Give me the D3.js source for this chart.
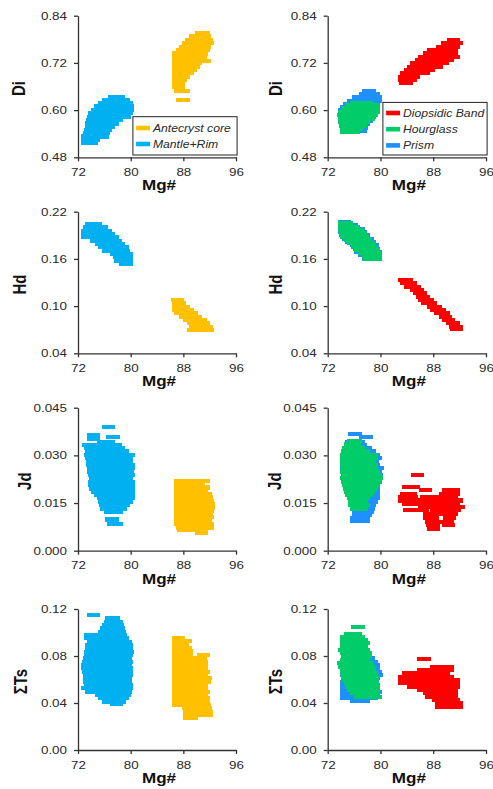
<!DOCTYPE html>
<html>
<head>
<meta charset="utf-8">
<script src="https://cdn.jsdelivr.net/npm/d3@7"></script>
<style>
  html, body { margin: 0; padding: 0; background: #fff; }
  svg { display: block; font-family: "Liberation Sans", Arial, sans-serif; }
</style>
</head>
<body>
<svg id="chart" width="493" height="789"></svg>
<script>
// ---- axis ticks ----
const mgTicks = [72, 80, 88, 96];
const diTicks = [0.48, 0.60, 0.72, 0.84];
const hdTicks = [0.04, 0.10, 0.16, 0.22];
const jdTicks = [0.000, 0.015, 0.030, 0.045];
const tsTicks = [0.00, 0.04, 0.08, 0.12];

// ---- groups ----
const groupsLeft = ["Antecryst core", "Mantle+Rim"];
const groupsRight = ["Diopsidic Band", "Hourglass", "Prism"];

// ---- analyses: each row is [value, Mg# of first spot in the run, Mg# of last spot in the run] ----
const diCore = [
  [0.795, 90.8, 91.0], [0.787, 89.8, 91.2], [0.778, 89.3, 91.5], [0.770, 88.8, 91.6],
  [0.761, 88.3, 91.2], [0.753, 87.8, 91.0], [0.744, 87.3, 90.8], [0.736, 87.3, 90.6],
  [0.727, 87.3, 90.2], [0.724, 91.2, 91.2], [0.719, 87.3, 89.8], [0.710, 87.3, 89.5],
  [0.702, 87.3, 89.1], [0.694, 87.3, 88.6], [0.685, 87.3, 88.1], [0.677, 87.3, 87.5],
  [0.668, 87.2, 87.2], [0.660, 87.2, 87.2], [0.649, 87.5, 88.0], [0.626, 87.9, 88.0]
];
const diRim = [
  [0.634, 77.6, 78.2], [0.626, 76.6, 78.9], [0.617, 76.0, 79.3], [0.609, 75.4, 79.5],
  [0.600, 74.9, 79.5], [0.592, 74.5, 79.3], [0.583, 74.3, 79.0], [0.575, 74.2, 77.8],
  [0.566, 74.1, 77.2], [0.558, 74.0, 76.7], [0.550, 73.9, 76.2], [0.541, 73.8, 75.9],
  [0.533, 73.5, 75.7], [0.524, 73.4, 74.4], [0.517, 73.4, 74.1]
];
const diBand = [
  [0.777, 91.0, 91.1], [0.770, 90.1, 91.6], [0.761, 89.4, 91.1], [0.753, 88.0, 90.8],
  [0.744, 87.5, 90.7], [0.736, 86.7, 91.0], [0.727, 86.2, 90.2], [0.719, 85.5, 89.4],
  [0.710, 85.0, 88.5], [0.702, 84.5, 87.3], [0.694, 83.9, 86.5], [0.685, 83.7, 85.0],
  [0.677, 83.6, 84.5], [0.668, 83.8, 83.9]
];
const diHourglass = [
  [0.619, 76.4, 77.9], [0.612, 75.6, 78.8], [0.604, 75.0, 78.9], [0.595, 74.5, 78.9],
  [0.587, 74.4, 78.7], [0.578, 74.5, 78.2], [0.570, 74.6, 77.5], [0.561, 74.7, 76.9],
  [0.553, 74.8, 76.4], [0.544, 74.8, 75.9]
];
const diPrism = [
  [0.649, 78.2, 78.3], [0.641, 77.7, 78.9], [0.633, 76.6, 79.3], [0.624, 75.9, 79.2],
  [0.616, 75.3, 79.0], [0.607, 74.8, 79.0], [0.599, 74.6, 78.9], [0.590, 74.5, 78.7],
  [0.582, 74.5, 78.3], [0.573, 74.6, 77.9], [0.565, 74.8, 77.5], [0.556, 74.9, 77.2],
  [0.548, 74.8, 76.9]
];

const hdCore = [
  [0.1078, 87.1, 87.1], [0.1035, 87.3, 87.4], [0.0993, 87.3, 88.0], [0.0951, 87.3, 88.6],
  [0.0908, 87.5, 89.3], [0.0866, 88.3, 89.8], [0.0823, 89.0, 90.6], [0.0781, 89.6, 91.1],
  [0.0739, 89.9, 91.5], [0.0696, 89.5, 91.6]
];
const hdRim = [
  [0.2043, 74.1, 74.6], [0.2001, 73.8, 75.5], [0.1959, 73.5, 76.2], [0.1916, 73.4, 76.7],
  [0.1874, 73.5, 77.2], [0.1832, 74.8, 77.7], [0.1789, 75.5, 78.2], [0.1747, 76.1, 78.7],
  [0.1704, 76.6, 78.9], [0.1662, 77.9, 79.3], [0.1620, 78.3, 79.4], [0.1577, 78.5, 79.4],
  [0.1535, 79.2, 79.3]
];
const hdBand = [
  [0.1332, 83.6, 83.9], [0.1289, 83.9, 84.5], [0.1247, 84.5, 85.2], [0.1205, 85.4, 85.6],
  [0.1162, 85.9, 86.0], [0.1120, 86.4, 86.5], [0.1078, 86.7, 87.1], [0.1035, 87.2, 87.6],
  [0.0993, 88.1, 88.3], [0.0951, 88.5, 89.0], [0.0908, 89.1, 89.5], [0.0866, 89.8, 89.9],
  [0.0823, 90.3, 90.3], [0.0781, 90.9, 91.0], [0.0739, 91.4, 91.5], [0.0705, 91.6, 91.6]
];
const hdHourglass = [
  [0.2052, 74.5, 74.9], [0.2009, 74.5, 75.9], [0.1967, 74.6, 76.5], [0.1925, 74.7, 76.9],
  [0.1882, 74.8, 77.3], [0.1840, 75.4, 77.8], [0.1798, 75.9, 78.3], [0.1755, 76.5, 78.7],
  [0.1713, 77.0, 78.9], [0.1671, 77.6, 79.1], [0.1628, 78.2, 79.3], [0.1594, 78.4, 79.3]
];
const hdPrism = [
  [0.2069, 74.5, 74.6], [0.2026, 74.5, 75.6], [0.1984, 74.6, 76.7], [0.1942, 74.6, 77.0],
  [0.1899, 74.7, 77.5], [0.1857, 75.1, 78.0], [0.1815, 75.6, 78.4], [0.1772, 76.3, 78.8],
  [0.1730, 76.8, 79.0], [0.1688, 77.0, 79.2], [0.1645, 77.6, 79.3], [0.1603, 78.2, 79.2]
];

const jdCore = [
  [0.0220, 87.6, 91.0], [0.0210, 87.6, 90.3], [0.0199, 87.6, 91.1], [0.0189, 87.6, 90.8],
  [0.0178, 87.6, 91.3], [0.0168, 87.6, 91.5], [0.0157, 87.6, 91.6], [0.0147, 87.6, 91.8],
  [0.0136, 87.6, 91.8], [0.0126, 87.6, 91.6], [0.0115, 87.6, 91.5], [0.0105, 87.6, 91.6],
  [0.0094, 87.6, 91.3], [0.0084, 87.6, 91.6], [0.0073, 87.8, 91.6], [0.0065, 88.1, 90.8],
  [0.0055, 90.8, 90.8]
];
const jdRim = [
  [0.0389, 76.6, 76.7], [0.0364, 74.3, 74.4], [0.0359, 77.3, 77.4], [0.0353, 74.3, 74.4],
  [0.0343, 75.9, 76.7], [0.0333, 73.6, 77.7], [0.0322, 73.9, 78.2], [0.0312, 74.0, 78.7],
  [0.0301, 73.9, 79.6], [0.0291, 74.1, 79.4], [0.0280, 74.2, 79.3], [0.0270, 74.2, 79.7],
  [0.0259, 74.3, 79.7], [0.0249, 74.4, 79.5], [0.0238, 74.5, 79.7], [0.0228, 74.6, 79.4],
  [0.0217, 74.5, 79.7], [0.0207, 74.5, 79.7], [0.0196, 74.6, 79.7], [0.0186, 74.9, 79.7],
  [0.0175, 75.4, 79.7], [0.0165, 75.9, 79.7], [0.0154, 76.1, 79.4], [0.0144, 76.2, 78.9],
  [0.0133, 76.4, 78.4], [0.0123, 76.9, 77.9], [0.0098, 77.1, 77.2], [0.0084, 77.4, 77.8]
];
const jdBand = [
  [0.0237, 85.6, 85.6], [0.0201, 84.2, 85.0], [0.0190, 86.9, 86.9], [0.0190, 90.3, 91.1],
  [0.0179, 83.9, 84.5], [0.0179, 89.8, 91.0], [0.0169, 83.7, 84.7], [0.0169, 87.0, 90.8],
  [0.0158, 83.7, 91.6], [0.0148, 84.2, 91.1], [0.0137, 86.7, 91.8], [0.0128, 84.4, 86.3],
  [0.0128, 88.5, 91.3], [0.0116, 87.5, 90.8], [0.0103, 87.4, 87.9], [0.0103, 90.4, 90.4],
  [0.0091, 87.8, 90.2], [0.0081, 87.9, 88.1], [0.0081, 90.3, 90.3], [0.0070, 88.0, 88.0]
];
const jdHourglass = [
  [0.0345, 75.9, 76.2], [0.0335, 75.5, 76.0], [0.0322, 75.1, 76.7], [0.0312, 75.0, 77.4],
  [0.0301, 74.8, 78.7], [0.0291, 74.8, 78.7], [0.0280, 74.8, 78.4], [0.0270, 74.9, 78.7],
  [0.0259, 75.0, 78.7], [0.0249, 74.9, 78.9], [0.0238, 75.0, 79.3], [0.0228, 74.9, 79.4],
  [0.0217, 75.0, 79.2], [0.0207, 75.1, 78.9], [0.0196, 75.3, 78.7], [0.0186, 75.4, 78.2],
  [0.0175, 75.6, 77.9], [0.0165, 75.9, 77.4], [0.0154, 76.1, 77.2], [0.0144, 76.1, 77.4],
  [0.0133, 76.4, 77.2]
];
const jdPrism = [
  [0.0367, 76.1, 76.2], [0.0357, 77.7, 77.9], [0.0343, 75.6, 76.7], [0.0333, 75.6, 76.9],
  [0.0322, 75.4, 77.8], [0.0312, 75.1, 78.3], [0.0301, 74.9, 78.9], [0.0291, 74.9, 79.2],
  [0.0280, 74.9, 78.8], [0.0270, 74.9, 78.9], [0.0259, 74.9, 79.5], [0.0249, 74.9, 79.2],
  [0.0238, 75.0, 79.4], [0.0228, 75.0, 79.4], [0.0217, 75.0, 79.3], [0.0207, 75.1, 79.0],
  [0.0196, 75.3, 79.0], [0.0186, 75.4, 79.0], [0.0175, 75.6, 78.9], [0.0165, 75.9, 79.0],
  [0.0154, 76.0, 78.7], [0.0144, 76.1, 78.4], [0.0133, 76.4, 78.2], [0.0123, 76.6, 78.0],
  [0.0112, 76.6, 77.7], [0.0102, 76.4, 77.4], [0.0093, 76.3, 77.4]
];

const tsCore = [
  [0.0956, 87.3, 87.3], [0.0928, 87.3, 88.3], [0.0899, 87.3, 87.8], [0.0871, 87.3, 88.3],
  [0.0843, 87.3, 88.5], [0.0811, 87.3, 88.5], [0.0811, 91.1, 91.1], [0.0780, 87.3, 90.6],
  [0.0752, 87.3, 90.7], [0.0723, 87.3, 90.8], [0.0695, 87.3, 90.8], [0.0667, 87.3, 91.0],
  [0.0638, 87.3, 90.8], [0.0610, 87.3, 91.3], [0.0582, 87.3, 91.2], [0.0553, 87.3, 90.8],
  [0.0525, 87.3, 90.8], [0.0496, 87.3, 91.0], [0.0468, 87.3, 90.8], [0.0440, 87.3, 91.0],
  [0.0411, 87.3, 91.1], [0.0383, 87.3, 91.2], [0.0355, 88.8, 91.3], [0.0326, 89.0, 91.5],
  [0.0298, 88.9, 91.5], [0.0269, 89.0, 89.3]
];
const tsRim = [
  [0.1149, 74.3, 74.4], [0.1121, 77.1, 77.4], [0.1092, 76.9, 77.8], [0.1064, 76.6, 78.0],
  [0.1035, 76.4, 78.2], [0.1007, 76.1, 78.3], [0.0979, 73.9, 78.5], [0.0950, 73.9, 78.7],
  [0.0922, 74.3, 79.2], [0.0894, 74.1, 79.3], [0.0865, 74.0, 79.4], [0.0837, 73.9, 79.5],
  [0.0809, 73.9, 79.3], [0.0780, 73.8, 79.2], [0.0752, 73.6, 79.3], [0.0723, 73.5, 79.2],
  [0.0695, 73.5, 79.4], [0.0667, 73.6, 79.3], [0.0638, 73.8, 79.3], [0.0610, 73.7, 79.2],
  [0.0582, 73.8, 79.2], [0.0553, 73.9, 79.4], [0.0525, 73.4, 79.3], [0.0496, 74.0, 79.2],
  [0.0468, 75.6, 79.0], [0.0440, 76.1, 78.7], [0.0411, 76.6, 78.3], [0.0391, 77.9, 77.9]
];
const tsBand = [
  [0.0774, 86.6, 86.7], [0.0704, 88.5, 90.2], [0.0681, 86.5, 90.2], [0.0652, 84.2, 89.5],
  [0.0624, 83.7, 90.2], [0.0596, 83.7, 91.0], [0.0567, 83.7, 91.1], [0.0539, 85.0, 91.1],
  [0.0511, 86.5, 90.8], [0.0482, 87.5, 90.7], [0.0454, 87.8, 90.7], [0.0426, 88.8, 91.0],
  [0.0397, 89.3, 91.6], [0.0369, 89.3, 91.5]
];
const tsHourglass = [
  [0.1050, 76.5, 76.6], [0.0987, 75.4, 76.2], [0.0965, 74.9, 76.7], [0.0936, 74.8, 77.2],
  [0.0908, 74.8, 77.4], [0.0879, 74.8, 77.2], [0.0851, 74.6, 77.4], [0.0823, 74.8, 77.7],
  [0.0794, 75.0, 77.8], [0.0766, 74.9, 77.5], [0.0738, 74.4, 77.9], [0.0709, 74.6, 78.2],
  [0.0681, 74.8, 78.4], [0.0652, 74.9, 78.7], [0.0624, 75.0, 78.8], [0.0596, 75.1, 78.7],
  [0.0567, 75.4, 78.8], [0.0539, 75.6, 78.9], [0.0511, 75.9, 78.9], [0.0482, 76.4, 79.0],
  [0.0454, 76.9, 79.3]
];
const tsPrism = [
  [0.0780, 75.0, 78.2], [0.0752, 74.9, 78.7], [0.0723, 74.9, 79.0], [0.0695, 74.9, 78.9],
  [0.0667, 74.9, 79.2], [0.0638, 74.9, 79.4], [0.0610, 75.0, 79.0], [0.0582, 74.9, 78.8],
  [0.0553, 74.8, 79.0], [0.0525, 74.8, 79.0], [0.0496, 74.9, 79.2], [0.0468, 74.9, 79.0],
  [0.0440, 74.8, 78.7], [0.0420, 76.3, 77.5]
];

// ---- styling ----
const colors = {
  "Antecryst core": "#FFC000",
  "Mantle+Rim": "#00B0F0",
  "Diopsidic Band": "#FF0000",
  "Hourglass": "#00CC6A",
  "Prism": "#1E90FF"
};
const STRETCH = 1.22;      // horizontal stretch of all lettering
const DASH_HALF = 6.5;     // half length of a dash marker, px
const DASH_H = 4.2;        // dash marker thickness, px
const axisColor = "#333";
const textColor = "#2a2a2a";

const colRange = [[78, 236], [327.7, 486]];
const rowRange = [[15.7, 157.3], [211.7, 353.3], [407.7, 550.7], [609, 750]];

const panels = [
  { col: 0, row: 0, title: "Di", ticks: diTicks, fmt: ".2f", titleX: 18.5,
    series: [["Antecryst core", diCore], ["Mantle+Rim", diRim]], legend: groupsLeft },
  { col: 1, row: 0, title: "Di", ticks: diTicks, fmt: ".2f", titleX: 275,
    series: [["Prism", diPrism], ["Hourglass", diHourglass], ["Diopsidic Band", diBand]], legend: groupsRight },
  { col: 0, row: 1, title: "Hd", ticks: hdTicks, fmt: ".2f", titleX: 19,
    series: [["Antecryst core", hdCore], ["Mantle+Rim", hdRim]] },
  { col: 1, row: 1, title: "Hd", ticks: hdTicks, fmt: ".2f", titleX: 275,
    series: [["Prism", hdPrism], ["Hourglass", hdHourglass], ["Diopsidic Band", hdBand]] },
  { col: 0, row: 2, title: "Jd", ticks: jdTicks, fmt: ".3f", titleX: 24,
    series: [["Antecryst core", jdCore], ["Mantle+Rim", jdRim]] },
  { col: 1, row: 2, title: "Jd", ticks: jdTicks, fmt: ".3f", titleX: 274,
    series: [["Prism", jdPrism], ["Hourglass", jdHourglass], ["Diopsidic Band", jdBand]] },
  { col: 0, row: 3, title: "\u03A3Ts", ticks: tsTicks, fmt: ".2f", titleX: 20,
    series: [["Antecryst core", tsCore], ["Mantle+Rim", tsRim]] },
  { col: 1, row: 3, title: "\u03A3Ts", ticks: tsTicks, fmt: ".2f", titleX: 275,
    series: [["Prism", tsPrism], ["Hourglass", tsHourglass], ["Diopsidic Band", tsBand]] }
];

const svg = d3.select("#chart");

panels.forEach(p => {
  const [x0, x1] = colRange[p.col];
  const [yTop, yBot] = rowRange[p.row];
  const x = d3.scaleLinear().domain([mgTicks[0], mgTicks[mgTicks.length - 1]]).range([x0, x1]);
  const y = d3.scaleLinear().domain([p.ticks[0], p.ticks[p.ticks.length - 1]]).range([yBot, yTop]);
  const g = svg.append("g");

  // dash markers: each run of analyses drawn as overlapping horizontal dashes
  p.series.forEach(([name, rows]) => {
    g.append("g").attr("shape-rendering", "crispEdges")
      .selectAll("rect").data(rows).join("rect")
      .attr("x", d => x(d[1]) - DASH_HALF)
      .attr("width", d => x(d[2]) - x(d[1]) + 2 * DASH_HALF)
      .attr("y", d => y(d[0]) - DASH_H / 2)
      .attr("height", DASH_H)
      .attr("fill", colors[name]);
  });

  // y axis
  const ya = g.append("g").attr("transform", `translate(${x0},0)`)
    .call(d3.axisLeft(y).tickValues(p.ticks).tickFormat(d3.format(p.fmt))
      .tickSize(4).tickSizeOuter(0).tickPadding(7));
  // x axis
  const xa = g.append("g").attr("transform", `translate(0,${yBot})`)
    .call(d3.axisBottom(x).tickValues(mgTicks).tickFormat(d3.format("d"))
      .tickSize(4).tickSizeOuter(0).tickPadding(7));

  [ya, xa].forEach(a => {
    a.select(".domain").attr("stroke", axisColor).attr("stroke-width", 1.3);
    a.selectAll(".tick line").attr("stroke", axisColor).attr("stroke-width", 1.3);
    a.selectAll(".tick text")
      .attr("fill", textColor)
      .style("font-size", "11px")
      .style("font-family", "'Liberation Sans', Arial, sans-serif");
  });
  ya.selectAll(".tick text").attr("x", -11 / STRETCH).attr("transform", `scale(${STRETCH},1)`);
  xa.selectAll(".tick text").attr("transform", `scale(${STRETCH},1)`);

  // axis titles
  g.append("text")
    .attr("transform", `translate(${(x0 + x1) / 2 + 2},${yBot + 33}) scale(${STRETCH},1)`)
    .attr("text-anchor", "middle")
    .style("font-size", "14px").style("font-weight", "bold")
    .attr("fill", "#111")
    .text("Mg#");
  g.append("text")
    .attr("transform", `translate(${p.titleX},${(yTop + yBot) / 2 + 2}) scale(${STRETCH},1) rotate(-90)`)
    .attr("text-anchor", "middle")
    .attr("dy", "0.36em")
    .style("font-size", "15px").style("font-weight", "bold")
    .attr("fill", "#111")
    .text(p.title);

  // legend
  if (p.legend) {
    const n = p.legend.length;
    const lh = n === 2 ? 38.3 : 52.6;
    const lw = 104.2;
    const lx = x1 + 1.1 - lw;
    const ly = yBot - 2.3 - lh;
    const lg = g.append("g");
    lg.append("rect")
      .attr("x", lx).attr("y", ly).attr("width", lw).attr("height", lh)
      .attr("fill", "#fff").attr("stroke", "#222").attr("stroke-width", 1);
    const step = n === 2 ? 16 : 16.2;
    const first = n === 2 ? 11.3 : 10.6;
    p.legend.forEach((name, i) => {
      const cy = ly + first + i * step;
      lg.append("rect")
        .attr("x", lx + 3.2).attr("y", cy - 2.3).attr("width", 14).attr("height", 4.6)
        .attr("fill", colors[name]);
      lg.append("text")
        .attr("transform", `translate(${lx + 20},${cy + 3.6}) scale(${STRETCH},1)`)
        .style("font-size", "10px").style("font-style", "italic")
        .attr("fill", textColor)
        .text(name);
    });
  }
});
</script>
</body>
</html>
